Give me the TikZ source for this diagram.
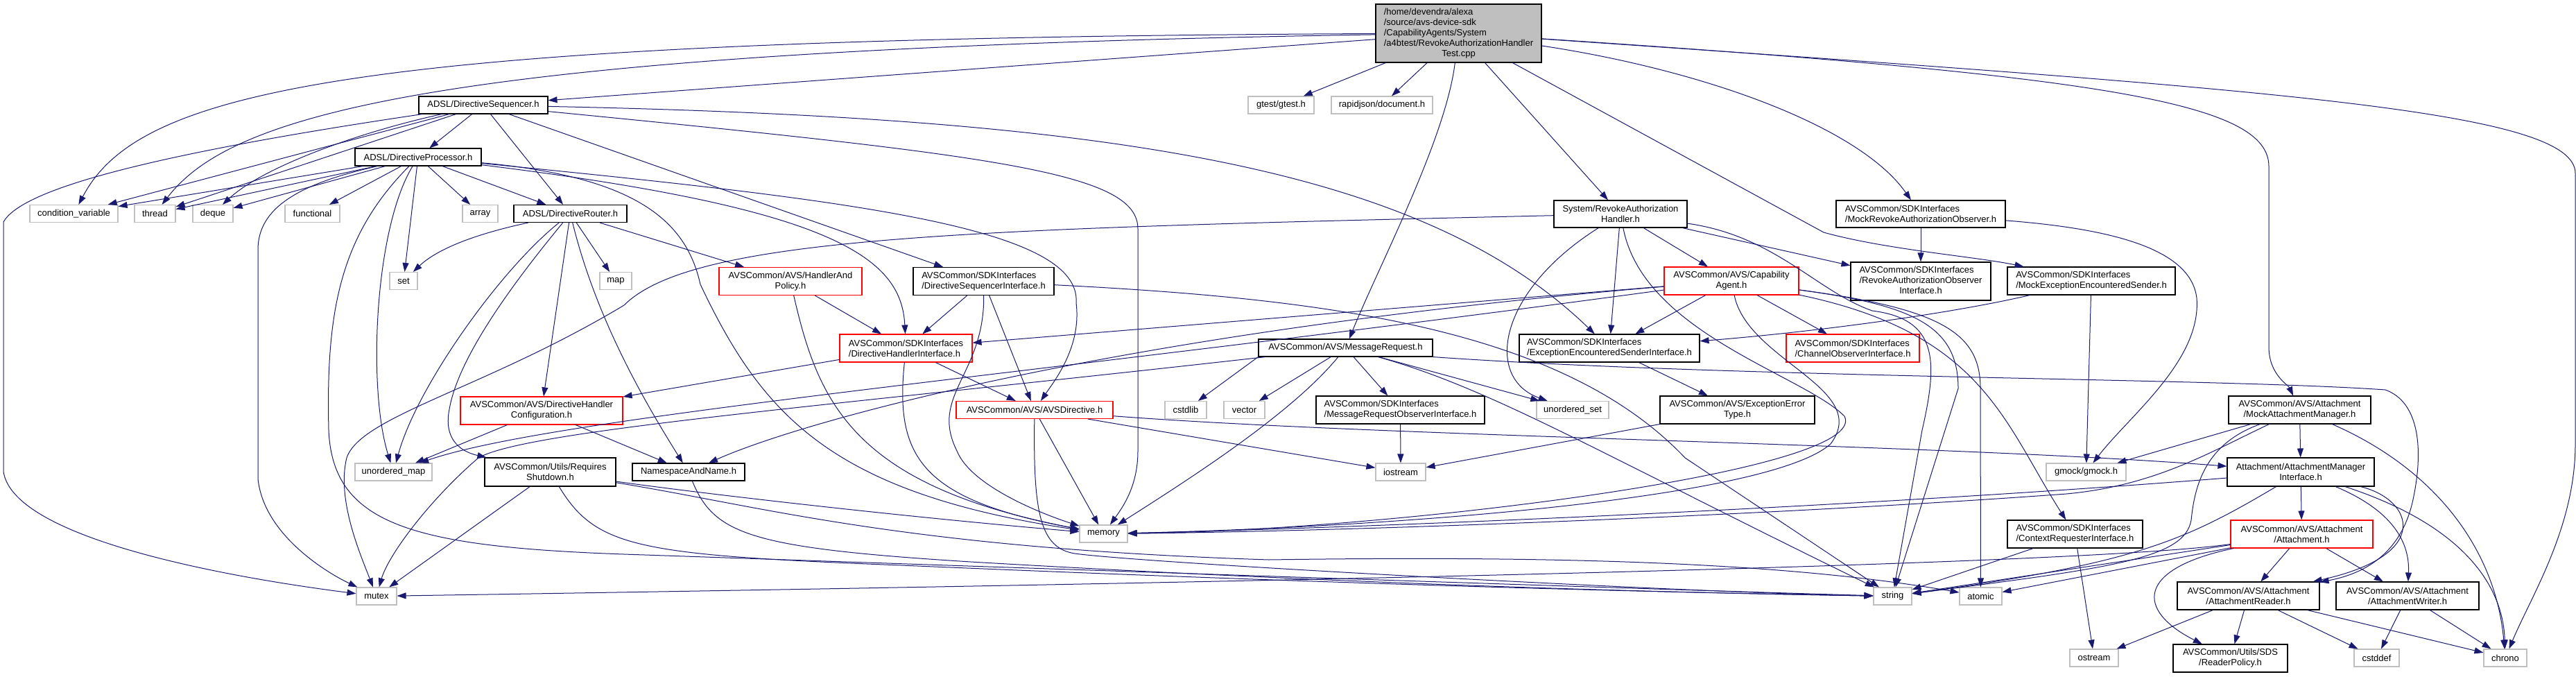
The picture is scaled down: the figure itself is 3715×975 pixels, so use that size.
\documentclass[tikz,border=0pt]{standalone}
\usepackage{fontspec}
\setmainfont{Liberation Sans}
\usetikzlibrary{arrows.meta}

\definecolor{edgeblue}{HTML}{191970}
\definecolor{sysgrey}{HTML}{BFBFBF}

\tikzset{
  hdr/.style={draw=black, line width=1.1pt, fill=white, inner sep=0pt,
    minimum height=25pt, font=\fontsize{13}{15}\selectfont, align=center},
  tall/.style={minimum height=40pt},
  sys/.style={hdr, draw=sysgrey},
  cut/.style={hdr, draw=red},
  dep/.style={draw=edgeblue, line width=1pt, -{Triangle[length=13pt,width=9pt]}},
}

\begin{document}
\begin{tikzpicture}[x=1pt, y=-1pt]
    \useasboundingbox (0,0) rectangle (3715,975);

    %test file
    \node[hdr, fill=sysgrey, minimum width=239pt, minimum height=84pt] (main) at (2103.5,48)
      {\begin{tabular}{@{}l@{}}/home/devendra/alexa\\/source/avs-device-sdk\\/CapabilityAgents/System\\/a4btest/RevokeAuthorizationHandler\\\multicolumn{1}{@{}c@{}}{Test.cpp}\end{tabular}};

    %headers, top to bottom
    \node[hdr, minimum width=186pt] (dirseq) at (697,151.5) {ADSL/DirectiveSequencer.h};
    \node[sys, minimum width=95pt] (gtest) at (1847.5,151.5) {gtest/gtest.h};
    \node[sys, minimum width=146pt] (rjson) at (1993,151.5) {rapidjson/document.h};
    \node[hdr, minimum width=182pt] (dirproc) at (603,226.5) {ADSL/DirectiveProcessor.h};

    \node[sys, minimum width=127pt] (cv) at (106.5,308) {condition\_variable};
    \node[sys, minimum width=59pt] (thread) at (223.5,308) {thread};
    \node[sys, minimum width=58pt] (deque) at (307,308) {deque};
    \node[sys, minimum width=79pt] (func) at (450.5,308) {functional};
    \node[sys, minimum width=51pt] (array) at (692.5,308) {array};
    \node[hdr, minimum width=163pt] (router) at (822.5,308) {ADSL/DirectiveRouter.h};
    \node[hdr, minimum width=192pt, minimum height=39pt] (revoke) at (2337,308.5) {System/RevokeAuthorization\\Handler.h};
    \node[hdr, minimum width=244pt, minimum height=39pt, align=left] (mockobs) at (2770,308.5) {AVSCommon/SDKInterfaces\\/MockRevokeAuthorizationObserver.h};

    \node[sys, minimum width=40pt] (set) at (582,405) {set};
    \node[sys, minimum width=46pt] (map) at (888,405) {map};
    \node[cut, tall, minimum width=206pt] (hpolicy) at (1140,405.5) {AVSCommon/AVS/HandlerAnd\\Policy.h};
    \node[hdr, tall, minimum width=203pt, align=left] (seqif) at (1418.5,405.5) {AVSCommon/SDKInterfaces\\/DirectiveSequencerInterface.h};
    \node[cut, tall, minimum width=194pt] (capagent) at (2497,405) {AVSCommon/AVS/Capability\\Agent.h};
    \node[hdr, minimum width=202pt, minimum height=55pt] (obsif) at (2770,405.5)
      {\begin{tabular}{@{}l@{}}AVSCommon/SDKInterfaces\\/RevokeAuthorizationObserver\\\multicolumn{1}{@{}c@{}}{Interface.h}\end{tabular}};
    \node[hdr, tall, minimum width=242pt, align=left] (mocksender) at (3016,405) {AVSCommon/SDKInterfaces\\/MockExceptionEncounteredSender.h};

    \node[cut, tall, minimum width=191pt, align=left] (handlerif) at (1306.5,502) {AVSCommon/SDKInterfaces\\/DirectiveHandlerInterface.h};
    \node[hdr, minimum width=251pt] (msgreq) at (1940.5,501.5) {AVSCommon/AVS/MessageRequest.h};
    \node[hdr, tall, minimum width=260pt, align=left] (excif) at (2321,502) {AVSCommon/SDKInterfaces\\/ExceptionEncounteredSenderInterface.h};
    \node[cut, tall, minimum width=192pt, align=left] (chanobs) at (2672,502) {AVSCommon/SDKInterfaces\\/ChannelObserverInterface.h};

    \node[cut, tall, minimum width=234pt] (hcfg) at (781,592) {AVSCommon/AVS/DirectiveHandler\\Configuration.h};
    \node[cut, minimum width=226pt] (avsdir) at (1492,591) {AVSCommon/AVS/AVSDirective.h};
    \node[sys, minimum width=60pt] (cstdlib) at (1710,591) {cstdlib};
    \node[sys, minimum width=59pt] (vector) at (1794.5,591) {vector};
    \node[hdr, tall, minimum width=243pt, align=left] (msgobs) at (2019.5,591) {AVSCommon/SDKInterfaces\\/MessageRequestObserverInterface.h};
    \node[sys, minimum width=104pt] (uset) at (2268,591) {unordered\_set};
    \node[hdr, tall, minimum width=223pt] (errtype) at (2505.5,591) {AVSCommon/AVS/ExceptionError\\Type.h};
    \node[hdr, tall, minimum width=205pt] (mockmgr) at (3316.5,591) {AVSCommon/AVS/Attachment\\/MockAttachmentManager.h};

    \node[sys, minimum width=111pt] (umap) at (567.5,680.5) {unordered\_map};
    \node[hdr, minimum width=189pt, minimum height=41pt] (shutdown) at (793.5,680.5) {AVSCommon/Utils/Requires\\Shutdown.h};
    \node[hdr, minimum width=162pt] (nsname) at (993,680.5) {NamespaceAndName.h};
    \node[sys, minimum width=72pt] (iostream) at (2020,680.5) {iostream};
    \node[sys, minimum width=115pt] (gmock) at (3008.5,680.5) {gmock/gmock.h};
    \node[hdr, minimum width=212pt, minimum height=41pt] (mgrif) at (3318,680.5) {Attachment/AttachmentManager\\Interface.h};

    \node[sys, minimum width=69pt] (memory) at (1591.5,769.5) {memory};
    \node[hdr, tall, minimum width=195pt, align=left] (ctxreq) at (2992.5,770) {AVSCommon/SDKInterfaces\\/ContextRequesterInterface.h};
    \node[cut, tall, minimum width=205pt] (attach) at (3319.5,770) {AVSCommon/AVS/Attachment\\/Attachment.h};

    \node[sys, minimum width=58pt] (mutex) at (543,859.5) {mutex};
    \node[sys, minimum width=55pt] (string) at (2729.5,859.5) {string};
    \node[sys, minimum width=61pt] (atomic) at (2856.5,859.5) {atomic};
    \node[hdr, tall, minimum width=205pt] (reader) at (3242.5,859) {AVSCommon/AVS/Attachment\\/AttachmentReader.h};
    \node[hdr, tall, minimum width=206pt] (writer) at (3472,859) {AVSCommon/AVS/Attachment\\/AttachmentWriter.h};

    \node[sys, minimum width=70pt] (ostream) at (3020,948.5) {ostream};
    \node[hdr, tall, minimum width=165pt] (rpolicy) at (3216.5,949) {AVSCommon/Utils/SDS\\/ReaderPolicy.h};
    \node[sys, minimum width=65pt] (cstddef) at (3427.5,948.5) {cstddef};
    \node[sys, minimum width=62pt] (chrono) at (3613,948.5) {chrono};

    %includes of the test file
    \draw[dep] (main) .. controls (500,55) and (200,130) .. (cv);
    \draw[dep] (main) .. controls (600,72) and (330,170) .. (thread);
    \draw[dep] (main) -- (dirseq);
    \draw[dep] (main) -- (gtest);
    \draw[dep] (main) -- (rjson);
    \draw[dep] (main) .. controls (2085,200) and (1990,380) .. (msgreq);
    \draw[dep] (main) -- (revoke);
    \draw[dep] (main) -- (2630,335) .. controls (2720,360) and (2850,370) .. (mocksender);
    \draw[dep] (main) .. controls (2450,100) and (2680,180) .. (mockobs);
    \draw[dep] (main) .. controls (3050,110) and (3272,150) .. (3272,240) -- (3272,500) .. controls (3272,540) and (3300,555) .. (mockmgr);
    \draw[dep] (main) .. controls (3300,130) and (3714,160) .. (3714,250) -- (3714,640) .. controls (3714,760) and (3650,860) .. (chrono);

    %ADSL
    \draw[dep] (dirseq) -- (cv);
    \draw[dep] (dirseq) -- (thread);
    \draw[dep] (dirseq) .. controls (520,190) and (380,240) .. (deque);
    \draw[dep] (dirseq) .. controls (200,225) and (30,275) .. (5,320) -- (5,680) .. controls (20,780) and (350,835) .. (mutex);
    \draw[dep] (dirseq) -- (dirproc);
    \draw[dep] (dirseq) -- (router);
    \draw[dep] (dirseq) -- (seqif);
    \draw[dep] (dirseq) .. controls (1600,170) and (2050,240) .. (excif);
    \draw[dep] (dirseq) .. controls (1450,225) and (1641,250) .. (1641,330) -- (1641,650) .. controls (1641,700) and (1620,730) .. (memory);

    \draw[dep] (dirproc) -- (cv);
    \draw[dep] (dirproc) -- (thread);
    \draw[dep] (dirproc) -- (deque);
    \draw[dep] (dirproc) -- (func);
    \draw[dep] (dirproc) -- (array);
    \draw[dep] (dirproc) -- (router);
    \draw[dep] (dirproc) -- (set);
    \draw[dep] (dirproc) .. controls (540,330) and (530,560) .. (umap);
    \draw[dep] (dirproc) .. controls (490,340) and (470,450) .. (474,620) .. controls (480,760) and (600,790) .. (930,800) .. controls (1800,830) and (2400,850) .. (string);
    \draw[dep] (dirproc) .. controls (430,265) and (372,300) .. (372,360) -- (372,690) .. controls (380,770) and (470,825) .. (mutex);
    \draw[dep] (dirproc) .. controls (920,255) and (990,320) .. (1010,410) .. controls (1100,600) and (1200,710) .. (memory);
    \draw[dep] (dirproc) .. controls (1250,290) and (1560,330) .. (1552,437) .. controls (1560,500) and (1520,550) .. (avsdir);
    \draw[dep] (dirproc) .. controls (1200,300) and (1300,370) .. (handlerif);

    \draw[dep] (router) .. controls (720,330) and (640,350) .. (set);
    \draw[dep] (router) -- (map);
    \draw[dep] (router) -- (hpolicy);
    \draw[dep] (router) -- (hcfg);
    \draw[dep] (router) .. controls (720,390) and (600,560) .. (umap);
    \draw[dep] (router) .. controls (730,420) and (660,520) .. (648,590) .. controls (640,630) and (660,650) .. (shutdown);
    \draw[dep] (router) .. controls (860,460) and (930,580) .. (nsname);

    %AVSCommon
    \draw[dep] (hpolicy) -- (handlerif);
    \draw[dep] (hpolicy) .. controls (1180,580) and (1230,700) .. (memory);
    \draw[dep] (seqif) -- (handlerif);
    \draw[dep] (seqif) -- (avsdir);
    \draw[dep] (seqif) .. controls (1420,540) and (1340,570) .. (1380,650) .. controls (1400,700) and (1500,740) .. (memory);
    \draw[dep] (seqif) .. controls (1900,430) and (2250,470) .. (2430,660) -- (string);
    \draw[dep] (handlerif) -- (hcfg);
    \draw[dep] (handlerif) -- (avsdir);
    \draw[dep] (handlerif) .. controls (1290,660) and (1330,720) .. (memory);
    \draw[dep] (hcfg) -- (umap);
    \draw[dep] (hcfg) -- (nsname);
    \draw[dep] (avsdir) -- (memory);
    \draw[dep] (avsdir) .. controls (1490,740) and (1500,790) .. (1550,798) .. controls (1650,812) and (2450,855) .. (string);
    \draw[dep] (avsdir) -- (iostream);
    \draw[dep] (avsdir) .. controls (2000,630) and (2800,640) .. (mgrif);
    \draw[dep] (nsname) .. controls (1030,770) and (1080,790) .. (1400,810) .. controls (2000,845) and (2450,855) .. (string);
    \draw[dep] (shutdown) -- (mutex);
    \draw[dep] (shutdown) .. controls (1000,710) and (1300,745) .. (memory);
    \draw[dep] (shutdown) .. controls (1100,730) and (1300,790) .. (1830,807) .. controls (2300,800) and (2600,815) .. (atomic);
    \draw[dep] (shutdown) .. controls (860,790) and (920,800) .. (1300,815) .. controls (2000,845) and (2450,855) .. (string);

    \draw[dep] (msgreq.south west) -- (cstdlib);
    \draw[dep] (msgreq) -- (vector);
    \draw[dep] (msgreq) -- (msgobs);
    \draw[dep] (msgreq) -- (uset);
    \draw[dep] (msgreq) .. controls (1860,600) and (1700,700) .. (memory);
    \draw[dep] (msgreq) .. controls (2150,560) and (2300,650) .. (string);
    \draw[dep] (msgreq) .. controls (1200,585) and (760,620) .. (690,660) .. controls (620,720) and (560,800) .. (mutex);
    \draw[dep] (msgreq.south east) .. controls (2500,545) and (3200,545) .. (3440,562) .. controls (3490,580) and (3495,650) .. (3480,720) .. controls (3465,790) and (3420,825) .. (reader);
    \draw[dep] (msgobs) -- (iostream);
    \draw[dep] (excif) -- (errtype);
    \draw[dep] (errtype) -- (iostream);

    %capability agent side
    \draw[dep] (revoke) -- (capagent);
    \draw[dep] (revoke) -- (excif);
    \draw[dep] (revoke) -- (obsif);
    \draw[dep] (revoke) .. controls (2160,420) and (2140,545) .. (uset);
    \draw[dep] (revoke) .. controls (1400,330) and (1000,340) .. (900,440) .. controls (700,560) and (520,600) .. (500,660) .. controls (485,720) and (520,800) .. (mutex);
    \draw[dep] (revoke) .. controls (2370,480) and (2600,540) .. (2660,600) .. controls (2700,680) and (2000,765) .. (memory);
    \draw[dep] (revoke) .. controls (2560,340) and (2620,420) .. (2700,448) .. controls (2795,460) and (2795,520) .. (2772,620) -- (string);

    \draw[dep] (capagent) -- (excif);
    \draw[dep] (capagent) -- (chanobs);
    \draw[dep] (capagent) -- (handlerif);
    \draw[dep] (capagent) .. controls (1500,540) and (800,600) .. (umap);
    \draw[dep] (capagent) .. controls (1600,480) and (1150,610) .. (nsname);
    \draw[dep] (capagent) .. controls (2520,520) and (2700,560) .. (2640,640) .. controls (2550,720) and (2000,760) .. (memory);
    \draw[dep] (capagent) .. controls (2760,440) and (2824,470) .. (2824,560) -- (string);
    \draw[dep] (capagent) .. controls (2800,445) and (2856,480) .. (2856,560) -- (atomic);
    \draw[dep] (capagent) .. controls (2860,480) and (2890,610) .. (ctxreq);

    \draw[dep] (mockobs) -- (obsif);
    \draw[dep] (mockobs) .. controls (3050,330) and (3160,360) .. (3168,430) .. controls (3175,520) and (3070,600) .. (gmock);
    \draw[dep] (mocksender) .. controls (2800,455) and (2600,480) .. (excif);
    \draw[dep] (mocksender) -- (gmock);

    %attachments
    \draw[dep] (mockmgr) -- (mgrif);
    \draw[dep] (mockmgr) -- (gmock);
    \draw[dep] (mockmgr) .. controls (3190,650) and (3110,700) .. (2980,712) .. controls (2600,740) and (2000,765) .. (memory);
    \draw[dep] (mockmgr) .. controls (3180,640) and (3165,700) .. (3160,750) .. controls (3150,805) and (3050,818) .. (string);
    \draw[dep] (mockmgr) .. controls (3520,680) and (3600,800) .. (chrono);

    \draw[dep] (mgrif) -- (attach);
    \draw[dep] (mgrif) .. controls (2700,730) and (2000,760) .. (memory);
    \draw[dep] (mgrif) .. controls (3150,780) and (3080,812) .. (string);
    \draw[dep] (mgrif) .. controls (3480,720) and (3510,800) .. (reader);
    \draw[dep] (mgrif) .. controls (3460,740) and (3475,790) .. (writer);
    \draw[dep] (mgrif) .. controls (3560,760) and (3610,850) .. (chrono);

    \draw[dep] (attach) -- (reader);
    \draw[dep] (attach) -- (writer);
    \draw[dep] (attach) .. controls (3000,815) and (1800,840) .. (mutex);
    \draw[dep] (attach) -- (string);
    \draw[dep] (attach) -- (atomic);
    \draw[dep] (attach) .. controls (3080,820) and (3080,880) .. (rpolicy);

    \draw[dep] (ctxreq) -- (string);
    \draw[dep] (ctxreq) -- (ostream);
    \draw[dep] (reader) -- (ostream);
    \draw[dep] (reader) -- (rpolicy);
    \draw[dep] (reader) -- (cstddef);
    \draw[dep] (reader) -- (chrono);
    \draw[dep] (writer) -- (cstddef);
    \draw[dep] (writer) -- (chrono);
\end{tikzpicture}
\end{document}
